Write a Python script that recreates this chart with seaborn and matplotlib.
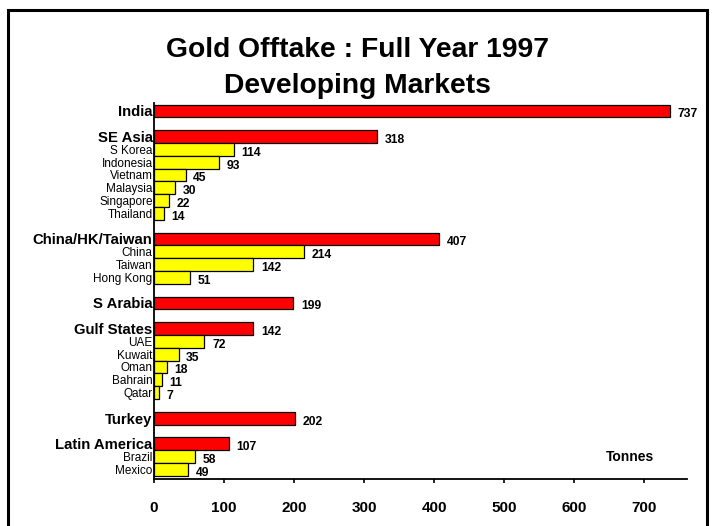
import matplotlib
matplotlib.use("Agg")
import matplotlib.pyplot as plt
import seaborn as sns
import pandas as pd
from matplotlib.patches import Rectangle

# ---- data ----
labels = ["India",
          "SE Asia", "S Korea", "Indonesia", "Vietnam", "Malaysia", "Singapore", "Thailand",
          "China/HK/Taiwan", "China", "Taiwan", "Hong Kong",
          "S Arabia",
          "Gulf States", "UAE", "Kuwait", "Oman", "Bahrain", "Qatar",
          "Turkey",
          "Latin America", "Brazil", "Mexico"]
values = [737,
          318, 114, 93, 45, 30, 22, 14,
          407, 214, 142, 51,
          199,
          142, 72, 35, 18, 11, 7,
          202,
          107, 58, 49]
levels = ["region",
          "region", "country", "country", "country", "country", "country", "country",
          "region", "country", "country", "country",
          "region",
          "region", "country", "country", "country", "country", "country",
          "region",
          "region", "country", "country"]
x_ticks = [0, 100, 200, 300, 400, 500, 600, 700]

df = pd.DataFrame({"label": labels, "value": values, "level": levels})

# order with blank spacer rows between groups
order = ["India", " ",
         "SE Asia", "S Korea", "Indonesia", "Vietnam", "Malaysia", "Singapore", "Thailand", "  ",
         "China/HK/Taiwan", "China", "Taiwan", "Hong Kong", "   ",
         "S Arabia", "    ",
         "Gulf States", "UAE", "Kuwait", "Oman", "Bahrain", "Qatar", "     ",
         "Turkey", "      ",
         "Latin America", "Brazil", "Mexico"]

sns.set_style("white")
plt.rcParams["font.family"] = ["Liberation Sans", "DejaVu Sans"]
plt.rcParams["text.color"] = "black"
plt.rcParams["xtick.color"] = "black"
plt.rcParams["ytick.color"] = "black"
plt.rcParams["axes.labelcolor"] = "black"

fig = plt.figure(figsize=(7.15, 5.26), dpi=100)
ax = fig.add_axes([154/715, 1 - 479/526, (687 - 154)/715, (479 - 103.3)/526])

sns.barplot(data=df, x="value", y="label", hue="level", order=order,
            palette={"region": "#FF0000", "country": "#FFFF00"},
            saturation=1, dodge=False, width=1.0, edgecolor="black", linewidth=0.9,
            legend=False, ax=ax, orient="y")

ax.set_xlim(0, 761)
ax.set_ylim(28.75, -0.6)
ax.set_xlabel("")
ax.set_ylabel("")

# value labels
for p in ax.patches:
    w = p.get_width()
    if w is None or w != w or w == 0:
        continue
    yc = p.get_y() + p.get_height() / 2
    ax.annotate(f"{int(round(w))}", xy=(w, yc), xytext=(5.5, -2.5),
                textcoords="offset points", ha="left", va="center",
                fontsize=8.7, fontweight="bold")

# y tick labels
region_set = set(l for l, lv in zip(labels, levels) if lv == "region")
for t in ax.get_yticklabels():
    txt = t.get_text()
    if txt in region_set:
        t.set_fontweight("bold")
        t.set_fontsize(10.7)
    else:
        t.set_fontsize(8.5)
ax.tick_params(axis="y", length=0, pad=1)

ax.set_xticks(x_ticks)
ax.set_xticklabels([str(v) for v in x_ticks], fontsize=11, fontweight="bold")
ax.tick_params(axis="x", direction="out", length=3, width=1.2, pad=13, bottom=True)

for s in ["top", "right"]:
    ax.spines[s].set_visible(False)
for s in ["left", "bottom"]:
    ax.spines[s].set_color("black")
    ax.spines[s].set_linewidth(1.3)

ax.text(0.893, 0.058, "Tonnes", transform=ax.transAxes, ha="center", va="center",
        fontsize=10, fontweight="bold")

fig.text(0.5, 1 - 50/526, "Gold Offtake : Full Year 1997", ha="center", va="center",
         fontsize=20.3, fontweight="bold")
fig.text(0.5, 1 - 86/526, "Developing Markets", ha="center", va="center",
         fontsize=20.3, fontweight="bold")

fig.patches.append(Rectangle((8/715, -0.05), (707 - 8)/715, 1.05 - 10/526,
                             transform=fig.transFigure, fill=False,
                             edgecolor="black", linewidth=2.2))

fig.savefig("out.png", dpi=100)
